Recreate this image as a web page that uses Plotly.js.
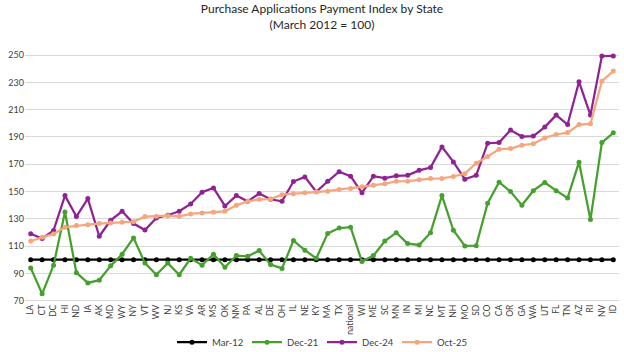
<!DOCTYPE html>
<html>
<head>
<meta charset="utf-8">
<script src="https://cdn.plot.ly/plotly-3.0.1.min.js"></script>
<style>html,body{margin:0;padding:0;background:#fff;}#chart{width:624px;height:352px;}</style>
</head>
<body>
<div id="chart"></div>
<script>
const states = ["LA","CT","DC","HI","ND","IA","AK","MD","WY","NY","VT","WV","NJ","KS","VA","AR","MS","OK","NM","PA","AL","DE","OH","IL","NE","KY","MA","TX","national","WI","ME","SC","MN","IN","MI","NC","MT","NH","MO","SD","CO","CA","OR","GA","WA","UT","FL","TN","AZ","RI","NV","ID"];

const mar12 = [100,100,100,100,100,100,100,100,100,100,100,100,100,100,100,100,100,100,100,100,100,100,100,100,100,100,100,100,100,100,100,100,100,100,100,100,100,100,100,100,100,100,100,100,100,100,100,100,100,100,100,100];

const dec21 = [94,75,96,135,90.5,83,85,95.5,104,116,97.5,89,97.5,89,101,96,104,94.5,103,102.5,106.7,96.4,93.6,114,107,101,119.3,123.2,123.8,98.6,103,113.7,119.8,111.8,110.8,119.8,147,121.6,110.1,110.3,141.4,156.8,150,139.9,150.6,156.6,150.6,145.3,171.5,129.4,185.9,193];

const dec24 = [119,115.5,121.5,147,131.6,144.8,117.2,128.9,135.5,126.5,121.8,130.6,132.6,135.5,140.9,149.4,152.6,139.4,147,142.8,148.5,144.3,142.8,157.3,160.7,149.8,157.5,164.5,161.2,149,161.2,159.8,161.5,161.9,165.5,167.6,182.7,171.7,159,161.9,185.4,185.9,195,190.3,190.6,197.2,206,199.1,230.4,206,249.3,249.4];

const oct25 = [113.7,116.4,118.9,123.8,125,125.7,126.5,126.9,127.4,127.9,131.6,131.8,132.3,131.8,133.6,134.3,134.8,135.5,139.9,142.8,144.3,144.5,147.7,148.3,149,149.8,150.2,151.5,152.2,153.4,154.6,155.6,157.5,157.6,158.6,159.5,159.6,161,163.1,170.7,175.6,181,181.5,184,185,189.3,191.8,193.2,199.1,199.6,230.9,238.3];

const seriesNames = ["Mar-12","Dec-21","Dec-24","Oct-25"];
const seriesData = [mar12, dec21, dec24, oct25];
const seriesColors = ["#000000","#46A02E","#8F2393","#F5A67E"];

const traces = seriesData.map((vals, i) => ({
  type: 'scatter',
  mode: 'lines+markers',
  name: seriesNames[i],
  x: states,
  y: vals,
  line: {color: seriesColors[i], width: 2.25},
  marker: {color: seriesColors[i], size: 5},
  cliponaxis: false
}));

const layout = {
  width: 624,
  height: 352,
  margin: {l: 25, r: 5, t: 51, b: 50},
  paper_bgcolor: '#ffffff',
  plot_bgcolor: '#ffffff',
  font: {family: 'Lato, "Open Sans", sans-serif', color: '#404040', size: 9},
  title: {
    text: 'Purchase Applications Payment Index by State<br>(March 2012 = 100)',
    x: 0.5, xanchor: 'center', xref: 'paper',
    y: 0.9625, yanchor: 'top', yref: 'container',
    font: {family: 'Lato, "Open Sans", sans-serif', size: 12, color: '#262626'}
  },
  xaxis: {
    type: 'category',
    range: [-0.5, 51.5],
    tickangle: -90,
    showgrid: false,
    zeroline: false,
    showline: false,
    ticks: '',
    tickfont: {size: 8.5, color: '#404040'},
    automargin: false
  },
  yaxis: {
    range: [69, 253],
    tick0: 70,
    dtick: 20,
    showgrid: true,
    gridcolor: '#d9d9d9',
    gridwidth: 1,
    zeroline: false,
    showline: false,
    ticks: '',
    tickfont: {size: 9, color: '#404040'},
    automargin: false
  },
  showlegend: true,
  legend: {
    orientation: 'h',
    x: 0.5, xanchor: 'center', xref: 'paper',
    y: 0.028, yanchor: 'middle', yref: 'container',
    entrywidth: 30, entrywidthmode: 'pixels',
    font: {size: 9.5, color: '#404040'},
    bgcolor: 'rgba(0,0,0,0)'
  }
};

Plotly.newPlot('chart', traces, layout, {displayModeBar: false, staticPlot: true});
</script>
</body>
</html>
